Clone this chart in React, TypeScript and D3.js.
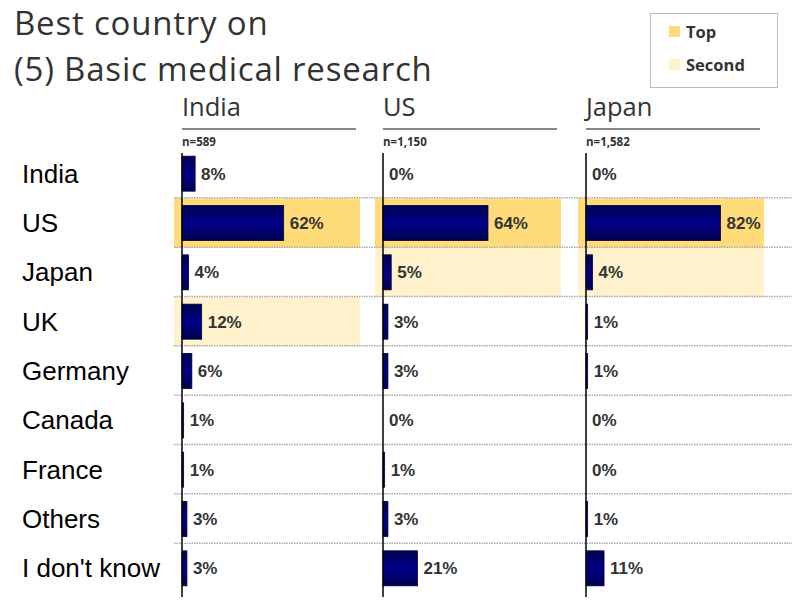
import { useEffect, useRef } from "react";
import * as d3 from "d3";

const countries = ["India", "US", "Japan", "UK", "Germany", "Canada", "France", "Others", "I don't know"];
const panels = ["India", "US", "Japan"];
const sampleSizes = ["n=589", "n=1,150", "n=1,582"];
const indiaValues = [8, 62, 4, 12, 6, 1, 1, 3, 3];
const usValues = [0, 64, 5, 3, 3, 0, 1, 3, 21];
const japanValues = [0, 82, 4, 1, 1, 0, 0, 1, 11];
// highlight per panel: index of top and second choice
const topIndex = [1, 1, 1];
const secondIndex = [3, 2, 2];

const W = 800;
const H = 600;

export default function App() {
  const svgRef = useRef<SVGSVGElement>(null);

  useEffect(() => {
    if (!svgRef.current) return;
    const svg = d3.select(svgRef.current);
    svg.selectAll("*").remove();

    const titleFont = "'Open Sans', 'Noto Sans', sans-serif";
    const labelFont = "'Liberation Sans Narrow', 'Liberation Sans', Arial, sans-serif";

    // Gradient for bars
    const defs = svg.append("defs");
    const grad = defs
      .append("linearGradient")
      .attr("id", "barGrad")
      .attr("x1", 0)
      .attr("y1", 0)
      .attr("x2", 0)
      .attr("y2", 1);
    grad.append("stop").attr("offset", "0%").attr("stop-color", "#000050");
    grad.append("stop").attr("offset", "50%").attr("stop-color", "#000088");
    grad.append("stop").attr("offset", "100%").attr("stop-color", "#000050");

    // Title
    svg.append("text")
      .attr("x", 14)
      .attr("y", 35)
      .attr("font-family", titleFont)
      .attr("font-size", 33)
      .attr("letter-spacing", 0.8)
      .attr("fill", "#333")
      .text("Best country on");
    svg.append("text")
      .attr("x", 14)
      .attr("y", 81)
      .attr("font-family", titleFont)
      .attr("font-size", 33)
      .attr("letter-spacing", 0.8)
      .attr("fill", "#333")
      .text("(5) Basic medical research");

    // Legend
    const lg = svg.append("g");
    lg.append("rect")
      .attr("x", 650.5)
      .attr("y", 13.5)
      .attr("width", 127)
      .attr("height", 74)
      .attr("fill", "white")
      .attr("stroke", "#bbb");
    const legendItems = [
      { label: "Top", color: "#FFDB7A", y: 32 },
      { label: "Second", color: "#FFF2CC", y: 65 },
    ];
    legendItems.forEach((d) => {
      lg.append("rect")
        .attr("x", 669)
        .attr("y", d.y - 6)
        .attr("width", 11)
        .attr("height", 11)
        .attr("fill", d.color);
      lg.append("text")
        .attr("x", 686)
        .attr("y", d.y + 6)
        .attr("font-family", titleFont)
        .attr("font-weight", "bold")
        .attr("font-size", 16.5)
        .attr("fill", "#333")
        .text(d.label);
    });

    // Row scale
    const y = d3
      .scaleBand<string>()
      .domain(countries)
      .range([149, 593])
      .paddingInner(0)
      .paddingOuter(0);
    const barH = 35;

    // Panel scale
    const px = d3.scaleOrdinal<string, number>().domain(panels).range([182, 383, 586]);
    const x = d3.scaleLinear().domain([0, 100]).range([0, 164]);
    const allValues = [indiaValues, usValues, japanValues];

    // Highlight bands
    panels.forEach((p, pi) => {
      const x0 = px(p);
      [
        { idx: topIndex[pi], color: "#FFDB7A" },
        { idx: secondIndex[pi], color: "#FFF2CC" },
      ].forEach((h) => {
        svg.append("rect")
          .attr("x", x0 - 8)
          .attr("y", y(countries[h.idx])!)
          .attr("width", 186)
          .attr("height", y.bandwidth())
          .attr("fill", h.color);
      });
    });

    // Row separators
    countries.slice(1).forEach((c) => {
      svg.append("line")
        .attr("x1", 174)
        .attr("x2", 792)
        .attr("y1", y(c)! - 0.5)
        .attr("y2", y(c)! - 0.5)
        .attr("stroke", "#aaa")
        .attr("stroke-width", 1.5)
        .attr("stroke-dasharray", "1.5,1");
    });

    // Row labels
    countries.forEach((c) => {
      svg.append("text")
        .attr("x", 22)
        .attr("y", y(c)! + y.bandwidth() / 2 + 9)
        .attr("font-family", "'Liberation Sans', Arial, sans-serif")
        .attr("font-size", 26)
        .attr("fill", "#000")
        .text(c);
    });

    // Panels
    panels.forEach((p, pi) => {
      const x0 = px(p);
      const g = svg.append("g").attr("transform", `translate(${x0},0)`);
      g.append("text")
        .attr("x", 0)
        .attr("y", 116)
        .attr("font-family", titleFont)
        .attr("font-size", 25.5)
        .attr("fill", "#333")
        .text(p);
      g.append("line")
        .attr("x1", 0)
        .attr("x2", 174)
        .attr("y1", 129)
        .attr("y2", 129)
        .attr("stroke", "#888")
        .attr("stroke-width", 2);
      g.append("text")
        .attr("x", 0)
        .attr("y", 146)
        .attr("font-family", titleFont)
        .attr("font-weight", "bold")
        .attr("font-size", 11.5)
        .attr("fill", "#333")
        .text(sampleSizes[pi]);

      const vals = allValues[pi];
      g.selectAll(".bar")
        .data(vals)
        .enter()
        .append("rect")
        .attr("class", "bar")
        .attr("x", 0)
        .attr("y", (_, i) => y(countries[i])! + (y.bandwidth() - barH) / 2)
        .attr("width", (d) => x(d))
        .attr("height", barH)
        .attr("fill", "url(#barGrad)")
        .attr("stroke", (d) => (d > 0 ? "#000040" : "none"))
        .attr("stroke-width", 0.8);

      g.selectAll(".val")
        .data(vals)
        .enter()
        .append("text")
        .attr("class", "val")
        .attr("x", (d) => x(d) + 6)
        .attr("y", (_, i) => y(countries[i])! + y.bandwidth() / 2 + 6)
        .attr("font-family", labelFont)
        .attr("font-weight", "bold")
        .attr("font-size", 17)
        .attr("fill", "#333")
        .text((d) => `${d}%`);

      g.append("line")
        .attr("x1", 0)
        .attr("x2", 0)
        .attr("y1", 153)
        .attr("y2", 597)
        .attr("stroke", "#000")
        .attr("stroke-width", 1.5);
    });

    return () => {
      svg.selectAll("*").remove();
    };
  }, []);

  return (
    <svg
      ref={svgRef}
      width={W}
      height={H}
      style={{ position: "absolute", left: 0, top: 0, background: "white" }}
    />
  );
}
